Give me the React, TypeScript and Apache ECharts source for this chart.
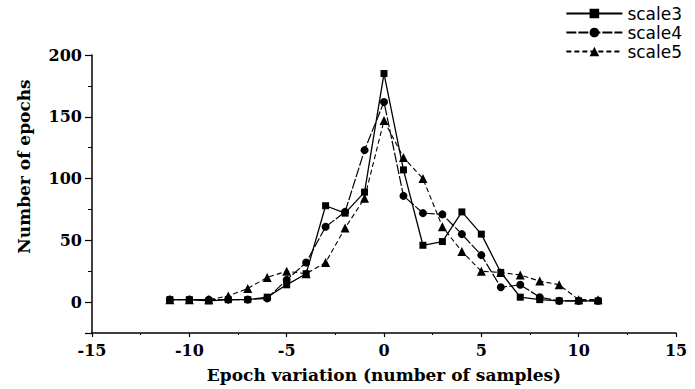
import React, { useEffect, useRef } from "react";
import * as echarts from "echarts";

const xValues = [-11, -10, -9, -8, -7, -6, -5, -4, -3, -2, -1, 0, 1, 2, 3, 4, 5, 6, 7, 8, 9, 10, 11];
const scale3 = [2, 2, 1, 2, 2, 4, 14, 23, 78, 72, 89, 185, 107, 46, 49, 73, 55, 24, 4, 2, 1, 1, 1];
const scale4 = [2, 2, 2, 2, 2, 3, 18, 32, 61, 73, 123, 162, 86, 72, 71, 55, 38, 12, 14, 4, 1, 1, 1];
const scale5 = [2, 2, 2, 5, 11, 20, 25, 23, 32, 60, 84, 147, 117, 100, 61, 41, 25, 24, 22, 17, 14, 2, 2];
const seriesNames = ["scale3", "scale4", "scale5"];
const xTitle = "Epoch variation (number of samples)";
const yTitle = "Number of epochs";

const pair = (ys: number[]) => xValues.map((x, i) => [x, ys[i]]);

export default function App() {
  const ref = useRef<HTMLDivElement>(null);
  useEffect(() => {
    if (!ref.current) return;
    const chart = echarts.init(ref.current, null, { renderer: "svg" });
    const serif = "DejaVu Serif";
    chart.setOption({
      animation: false,
      backgroundColor: "#fff",
      grid: { left: 92, right: 19, top: 55, bottom: 56, containLabel: false, outerBoundsMode: "none" },
      legend: {
        orient: "vertical",
        right: 8,
        top: 0,
        itemWidth: 56,
        itemHeight: 12,
        itemGap: 2,
        textStyle: { fontFamily: "DejaVu Sans", fontSize: 17, lineHeight: 17, color: "#000" },
        data: seriesNames,
      },
      xAxis: {
        type: "value",
        min: -15,
        max: 15,
        interval: 5,
        name: xTitle,
        nameLocation: "middle",
        nameGap: 33,
        nameTextStyle: { fontFamily: serif, fontWeight: "bold", fontSize: 17, color: "#000" },
        axisLine: { onZero: false, lineStyle: { color: "#000", width: 1.5 } },
        axisTick: { show: true, length: 4, lineStyle: { color: "#000", width: 1.2 } },
        minorTick: { show: true, splitNumber: 2, length: 2, lineStyle: { color: "#000" } },
        axisLabel: { fontFamily: serif, fontWeight: "bold", fontSize: 16, color: "#000", margin: 9 },
        splitLine: { show: false },
      },
      yAxis: [
        {
          type: "value",
          min: -25,
          max: 200,
          splitNumber: 5,
          name: yTitle,
          nameLocation: "middle",
          nameGap: 60,
          nameRotate: 90,
          nameTextStyle: {
            fontFamily: serif,
            fontWeight: "bold",
            fontSize: 17,
            color: "#000",
            padding: [0, 0, 0, 55],
          },
          axisLine: { onZero: false, lineStyle: { color: "#000", width: 1.5 } },
          axisTick: { show: true, length: 7, lineStyle: { color: "#000", width: 1.2 } },
          axisLabel: {
            fontFamily: serif,
            fontWeight: "bold",
            fontSize: 16,
            color: "#000",
            margin: 10,
            formatter: (v: number) => (v < 0 ? "" : String(v)),
          },
          splitLine: { show: false },
        },
        {
          type: "value",
          min: -25,
          max: 200,
          interval: 25,
          position: "left",
          axisLine: { show: false, onZero: false },
          axisTick: { show: true, length: 4, lineStyle: { color: "#000", width: 1 } },
          axisLabel: { show: false },
          splitLine: { show: false },
        },
      ],
      series: [
        {
          name: seriesNames[0],
          type: "line",
          data: pair(scale3),
          symbol: "rect",
          symbolSize: 7,
          clip: false,
          itemStyle: { color: "#000" },
          lineStyle: { color: "#000", width: 1.3 },
        },
        {
          name: seriesNames[1],
          type: "line",
          data: pair(scale4),
          symbol: "circle",
          symbolSize: 8,
          clip: false,
          itemStyle: { color: "#000" },
          lineStyle: { color: "#000", width: 1.2, type: [10, 2] },
        },
        {
          name: seriesNames[2],
          type: "line",
          data: pair(scale5),
          symbol: "triangle",
          symbolSize: 9,
          clip: false,
          itemStyle: { color: "#000" },
          lineStyle: { color: "#000", width: 1.1, type: [5, 3] },
        },
      ],
    });
    return () => chart.dispose();
  }, []);
  return (
    <div
      ref={ref}
      style={{ position: "fixed", left: 0, top: 0, width: 695, height: 389 }}
    />
  );
}
